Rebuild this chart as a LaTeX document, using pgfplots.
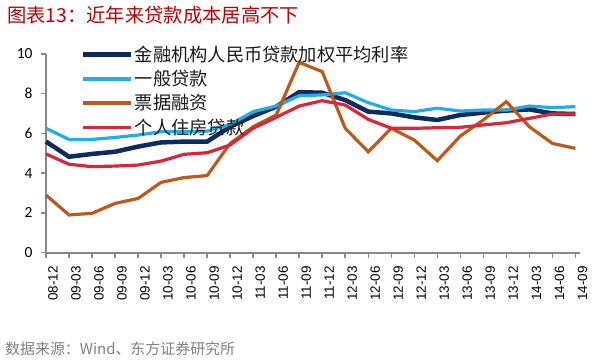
\documentclass[border=0pt]{standalone}
\usepackage{pgfplots}
\pgfplotsset{compat=1.18}
\usepackage{fontspec}
\setmainfont{Carlito}
\newfontfamily\cjk{Noto Sans CJK SC}
\newfontfamily\arial{Liberation Sans}
\definecolor{navy}{HTML}{0D2B5E}
\definecolor{lblue}{HTML}{21AEE6}
\definecolor{brownc}{HTML}{BB5A1B}
\definecolor{redc}{HTML}{D9273A}
\definecolor{axgray}{HTML}{888888}
\definecolor{titlered}{HTML}{C00000}
\definecolor{srcgray}{HTML}{808080}
\pgfplotstableread{
i navy lblue brown red
0 5.59 6.26 2.90 4.97
1 4.83 5.70 1.90 4.45
2 4.97 5.70 1.98 4.33
3 5.08 5.80 2.48 4.36
4 5.34 5.92 2.73 4.41
5 5.55 6.09 3.54 4.61
6 5.59 6.09 3.78 4.95
7 5.59 6.12 3.88 5.03
8 6.34 6.45 5.50 5.42
9 6.88 7.10 6.34 6.26
10 7.35 7.38 6.93 6.81
11 8.08 7.90 9.58 7.38
12 8.05 7.94 9.11 7.65
13 7.68 8.05 6.26 7.43
14 7.10 7.55 5.08 6.71
15 7.01 7.18 6.26 6.26
16 6.81 7.10 5.67 6.26
17 6.68 7.27 4.63 6.29
18 6.93 7.13 5.87 6.31
19 7.05 7.18 6.68 6.43
20 7.15 7.18 7.60 6.54
21 7.21 7.38 6.34 6.76
22 7.01 7.30 5.50 6.98
23 6.98 7.35 5.25 6.98
}\datatable
\begin{document}
\begin{tikzpicture}[x=1bp,y=1bp]
\path[use as bounding box] (0,0) rectangle (598,362);
\node[anchor=west, inner sep=0pt, text=titlered, font=\cjk\fontsize{19.4}{22}\selectfont] at (7,347) {图表13：近年来贷款成本居高不下};
\node[anchor=west, inner sep=0pt, text=srcgray, font=\cjk\fontsize{15}{18}\selectfont] at (5,13) {数据来源：Wind、东方证券研究所};
\begin{axis}[
  at={(46bp,109.3bp)}, anchor=south west,
  scale only axis, width=534bp, height=198.7bp,
  xmin=0, xmax=23.2, ymin=0, ymax=10,
  axis x line*=bottom, axis y line*=left,
  axis line style={axgray, line width=1.8bp, -},
  tick style={axgray, line width=1.5bp},
  tick align=outside, major tick length=5bp,
  xtick={0,...,23},
  xticklabels={08-12,09-03,09-06,09-09,09-12,10-03,10-06,10-09,10-12,11-03,11-06,11-09,11-12,12-03,12-06,12-09,12-12,13-03,13-06,13-09,13-12,14-03,14-06,14-09},
  xticklabel style={xshift=7bp, yshift=-5bp, rotate=90, anchor=east, font=\arial\fontsize{13.5}{14}\selectfont},
  ytick={0,2,...,10},
  yticklabel style={xshift=-5bp, font=\fontsize{15.5}{16}\selectfont, /pgf/number format/assume math mode=true},
  legend style={draw=none, fill=none, at={(0.064,1.05)}, anchor=north west, inner sep=0pt,
    font=\cjk\fontsize{18.3}{20}\selectfont, row sep=3.3bp, text=black!90},
  legend cell align=left,
  legend image code/.code={\draw[#1] (0bp,0bp) -- (48bp,0bp);},
  clip=false,
]
\addplot[navy, line width=4.5bp] table[x=i,y=navy] {\datatable};
\addlegendentry{金融机构人民币贷款加权平均利率}
\addplot[lblue, line width=3.2bp] table[x=i,y=lblue] {\datatable};
\addlegendentry{一般贷款}
\addplot[brownc, line width=3.2bp] table[x=i,y=brown] {\datatable};
\addlegendentry{票据融资}
\addplot[redc, line width=3.2bp] table[x=i,y=red] {\datatable};
\addlegendentry{个人住房贷款}
\end{axis}
\end{tikzpicture}
\end{document}
